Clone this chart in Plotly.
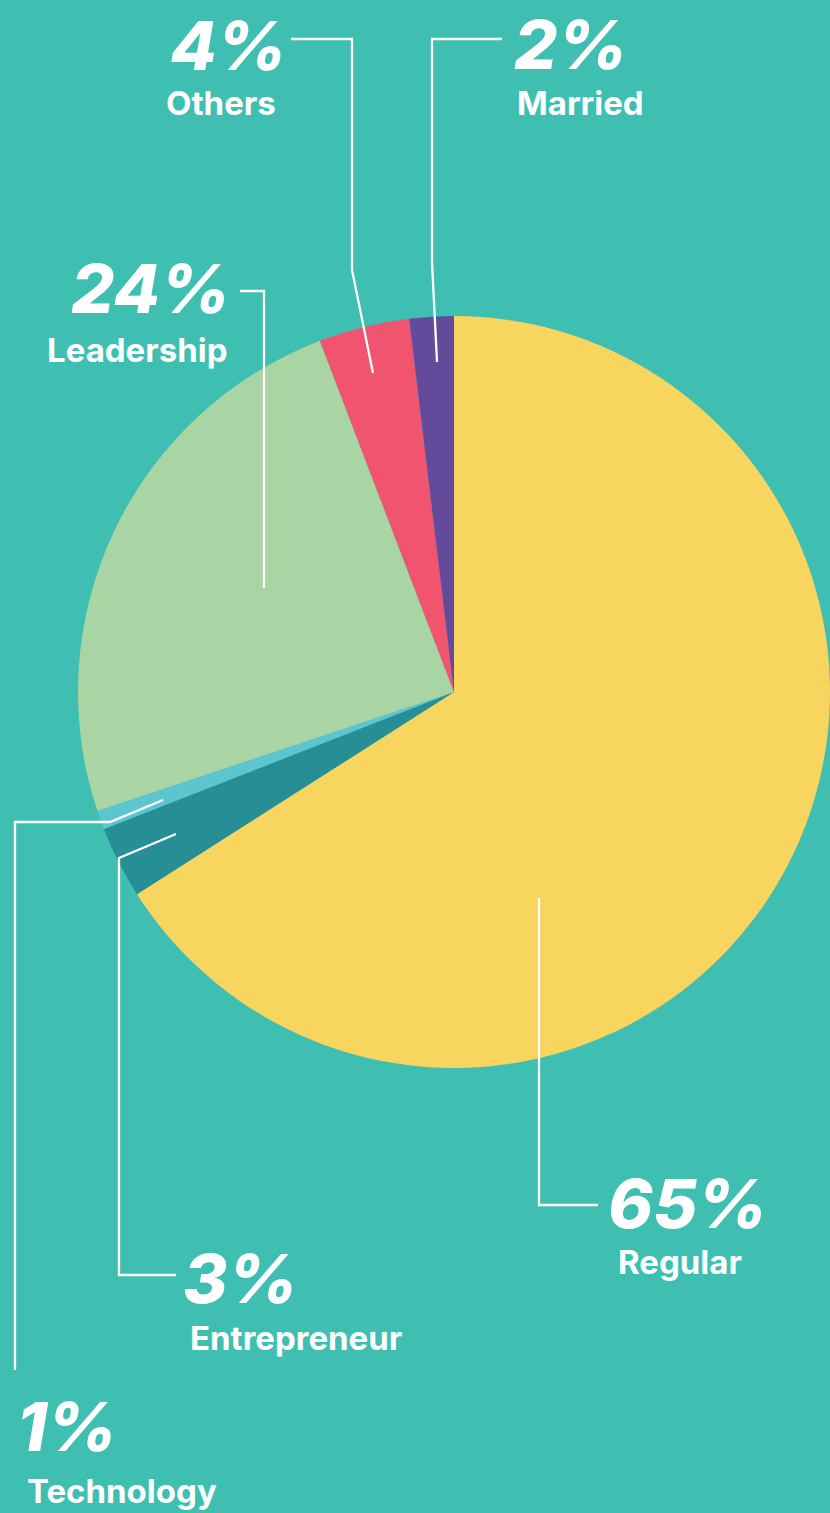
import plotly.graph_objects as go

W, H = 830, 1513

# Data (clockwise from 12 o'clock)
categories = ["Regular", "Entrepreneur", "Technology", "Leadership", "Others", "Married"]
values = [65.9, 3.1, 0.8, 24.3, 3.9, 1.9]
pct_labels = ["65%", "3%", "1%", "24%", "4%", "2%"]
colors = ["#F7D55F", "#288E96", "#5BC6CF", "#A9D4A3", "#F0546F", "#634A9A"]

BG = "#3EBFB2"

def px(x):
    return x / W

def py(y):
    return 1 - y / H

cx, cy, r = 454, 692, 376

fig = go.Figure(go.Pie(
    labels=categories,
    values=values,
    sort=False,
    direction="clockwise",
    rotation=0,
    textinfo="none",
    hoverinfo="label+percent",
    marker=dict(colors=colors, line=dict(width=0)),
    domain=dict(x=[px(cx - r), min(1, px(cx + r))], y=[py(cy + r), py(cy - r)]),
    showlegend=False,
))

# label layout: (pct x, pct y, pct xanchor, name x, name y, name xanchor)
label_pos = {
    "Regular": (687, 1203, "center", 680, 1262, "center"),
    "Entrepreneur": (181, 1278, "left", 188, 1338, "left"),
    "Technology": (15, 1426, "left", 25, 1491, "left"),
    "Leadership": (232, 288, "right", 229, 350, "right"),
    "Others": (228, 45, "center", 221, 103, "center"),
    "Married": (570, 44, "center", 580, 103, "center"),
}

leaders = {
    "Regular": [(539, 898), (539, 1205), (598, 1205)],
    "Entrepreneur": [(176, 834), (119, 858), (119, 1275), (176, 1275)],
    "Technology": [(163, 800), (110, 822), (15, 822), (15, 1370)],
    "Leadership": [(240, 291), (264, 291), (264, 588)],
    "Others": [(291, 39), (352, 39), (352, 270), (373, 373)],
    "Married": [(502, 39), (432, 39), (432, 262), (437, 362)],
}

FONT = "Inter"
annotations = []
shapes = []
for cat, pct in zip(categories, pct_labels):
    x1, y1, a1, x2, y2, a2 = label_pos[cat]
    annotations.append(dict(
        x=px(x1), y=py(y1), xref="paper", yref="paper", xanchor=a1, yanchor="middle",
        text=pct, showarrow=False,
        font=dict(family=FONT, size=68, color="white", weight=800, style="italic"),
    ))
    annotations.append(dict(
        x=px(x2), y=py(y2), xref="paper", yref="paper", xanchor=a2, yanchor="middle",
        text=cat, showarrow=False,
        font=dict(family=FONT, size=33, color="white", weight="bold"),
    ))
    pts = leaders[cat]
    path = "M " + " L ".join(f"{px(x)},{py(y)}" for x, y in pts)
    shapes.append(dict(type="path", path=path, xref="paper", yref="paper",
                       line=dict(color="white", width=2.3)))

fig.update_layout(
    width=W, height=H,
    margin=dict(l=0, r=0, t=0, b=0),
    paper_bgcolor=BG, plot_bgcolor=BG,
    annotations=annotations,
    shapes=shapes,
)

fig.write_html(
    "out.html",
    config={"displayModeBar": False},
    post_script="document.body.style.margin='0';document.body.style.background='" + BG + "';",
)
